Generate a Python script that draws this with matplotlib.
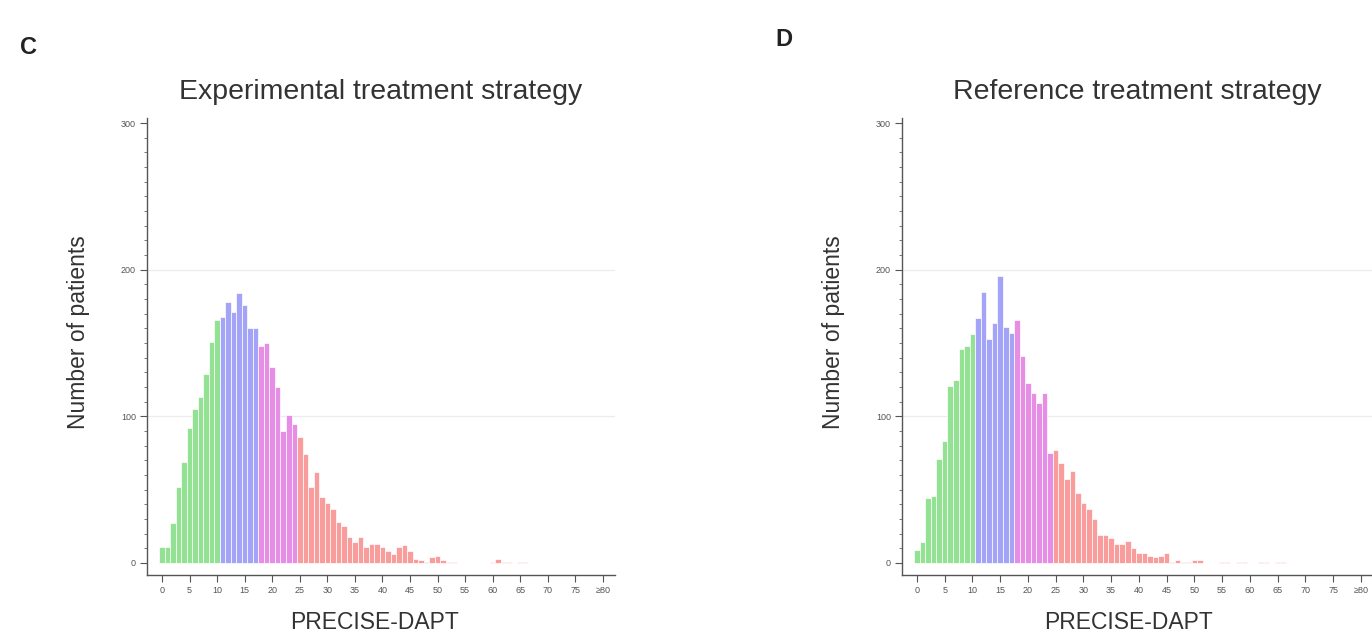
import matplotlib
matplotlib.use("Agg")
import matplotlib.pyplot as plt
from matplotlib.ticker import MultipleLocator
import numpy as np

# PRECISE-DAPT score bins (0 .. 80, last = >=80)
scores = list(range(0, 81))

# Panel C: experimental treatment strategy (number of patients per score)
exp_counts = [11, 11, 27, 52, 69, 92, 105, 113, 129, 151,
              166, 168, 178, 171, 184, 176, 160, 160, 148, 150,
              134, 120, 90, 101, 95, 86, 74, 52, 62, 45,
              41, 37, 28, 25, 18, 14, 18, 11, 13, 13,
              11, 8, 6, 11, 12, 8, 3, 2, 1, 4,
              5, 2, 1, 1, 0, 0, 0, 0, 0, 0,
              1, 3, 1, 1, 0, 1, 1, 0, 0, 0,
              0, 0, 0, 0, 0, 0, 0, 0, 0, 0, 0]

# Panel D: reference treatment strategy
ref_counts = [9, 14, 44, 46, 71, 83, 121, 125, 146, 148,
              156, 167, 185, 153, 164, 196, 161, 157, 166, 141,
              123, 116, 109, 116, 75, 77, 68, 57, 63, 48,
              41, 37, 30, 19, 19, 17, 13, 13, 15, 10,
              7, 7, 5, 4, 5, 7, 1, 2, 1, 1,
              2, 2, 0, 0, 0, 1, 1, 0, 1, 1,
              0, 0, 1, 1, 0, 1, 1, 0, 0, 0,
              0, 0, 0, 0, 0, 0, 0, 0, 0, 0, 0]

# risk category boundaries: very low <=10, low 11-17, moderate 18-24, high >=25
cat_colors = ["#93e293", "#a3a3f7", "#e68ee6", "#f89c9c"]

def cat_color(s):
    if s <= 10:
        return cat_colors[0]
    if s <= 17:
        return cat_colors[1]
    if s <= 24:
        return cat_colors[2]
    return cat_colors[3]

xtick_vals = list(range(0, 81, 5))
xtick_labels = [str(v) for v in range(0, 80, 5)] + ["\u226580"]
ytick_vals = [0, 100, 200, 300]

titles = ["Experimental treatment strategy", "Reference treatment strategy"]
letters = ["C", "D"]

plt.rcParams['font.family'] = ['Liberation Sans', 'DejaVu Sans']

W, H = 1372, 635
fig = plt.figure(figsize=(W / 100, H / 100), dpi=100)

# axes boxes in pixel coords (left, top, right, bottom)
boxes = [(147, 118, 615, 575), (902, 118, 1373, 575)]
xlims = [(-2.72, 82.2), (-2.7, 82.2)]
xlabel_centers = [375, 1128]
ylabel_right = [90, 845]

for k, (counts, box) in enumerate(zip([exp_counts, ref_counts], boxes)):
    l, t, r, b = box
    ax = fig.add_axes([l / W, 1 - b / H, (r - l) / W, (b - t) / H])
    colors = [cat_color(s) for s in scores]
    ax.bar(scores, counts, width=1.0, color=colors, edgecolor="white",
           linewidth=0.5, zorder=3)
    ax.set_xlim(*xlims[k])
    ax.set_ylim(-8.2, 303.5)
    for gy in [100, 200]:
        ax.axhline(gy, color="#ececec", linewidth=0.9, zorder=1)
    for side in ["top", "right"]:
        ax.spines[side].set_visible(False)
    for side in ["left", "bottom"]:
        ax.spines[side].set_color("#555555")
        ax.spines[side].set_linewidth(1.0)
    ax.set_xticks(xtick_vals)
    ax.set_xticklabels(xtick_labels)
    ax.set_yticks(ytick_vals)
    ax.yaxis.set_minor_locator(MultipleLocator(10))
    ax.tick_params(axis="both", which="major", labelsize=6.5, colors="#555555",
                   length=5, width=0.8, pad=3)
    ax.tick_params(axis="y", which="minor", length=2.5, width=0.7, colors="#777777")
    ax.set_title(titles[k], fontsize=20.5, color="#333333", pad=14)
    ax.set_xlabel("PRECISE-DAPT", fontsize=16.5, color="#333333")
    ax.set_ylabel("Number of patients", fontsize=16.5, color="#333333")
    aw, ah = r - l, b - t
    ax.xaxis.set_label_coords((xlabel_centers[k] - l) / aw, (b - 611) / ah)
    ax.yaxis.set_label_coords((ylabel_right[k] - l) / aw, (b - 332) / ah)

fig.text(20 / W, 1 - 47 / H, letters[0], fontsize=17, fontweight="bold",
         color="#222222", va="center", ha="left")
fig.text(775 / W, 1 - 39 / H, letters[1], fontsize=17, fontweight="bold",
         color="#222222", va="center", ha="left")

fig.savefig("out.png", dpi=100, facecolor="white")
